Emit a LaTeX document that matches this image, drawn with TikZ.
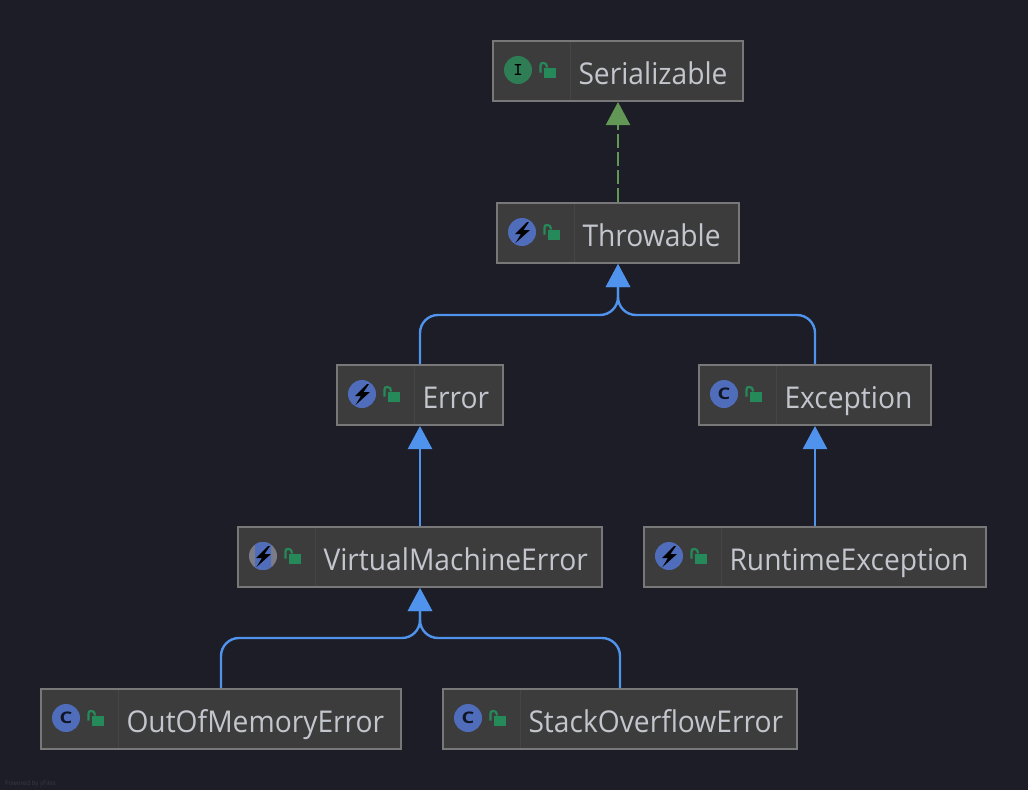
\documentclass[tikz,border=0pt]{standalone}
\usepackage{fontspec}
\setmainfont[FakeStretch=0.94]{Open Sans}
\newfontfamily\iconfont[FakeStretch=1.25]{Open Sans}
\usetikzlibrary{arrows.meta}
\definecolor{bgc}{HTML}{1C1D26}
\definecolor{boxfill}{HTML}{3C3C3C}
\definecolor{boxline}{HTML}{787878}
\definecolor{sepline}{HTML}{454545}
\definecolor{labelc}{HTML}{C4C6CE}
\definecolor{edgeblue}{HTML}{4F93EC}
\definecolor{edgegreen}{HTML}{629755}
\definecolor{iconblue}{HTML}{4F6DBB}
\definecolor{icongreen}{HTML}{2E7D55}
\definecolor{lockgreen}{HTML}{26895A}
\definecolor{icongrey}{HTML}{7C7C88}
\definecolor{powered}{HTML}{383942}
\tikzset{
  classbox/.style={draw=boxline,fill=boxfill,line width=2pt,rectangle,inner sep=0pt,outer sep=1pt},
  classlabel/.style={anchor=base west,text=labelc,inner sep=0pt,outer sep=0pt,font=\fontsize{30}{36}\selectfont},
  iconletter/.style={inner sep=0pt,outer sep=0pt,text=bgc},
  extendsedge/.style={draw=edgeblue,line width=2.4pt,rounded corners=18pt,-{Triangle[width=24pt,length=23pt,fill=edgeblue]}},
  implementsedge/.style={draw=edgegreen,line width=2.4pt,dash pattern=on 14pt off 4pt,-{Triangle[width=24pt,length=23pt,fill=edgegreen]}},
}
\newcommand{\boltshape}{%
  \fill[black] (30,19) -- (18,31) -- (24,31) -- (18.5,40) -- (33,27) -- (26.5,27) -- (32,19) -- cycle;}
\newcommand{\iconblueball}{\fill[iconblue] (25,29) circle (14);}
\newcommand{\iconthrow}{\iconblueball\boltshape}
\newcommand{\iconabstract}{%
  \fill[icongrey] (25,29) circle (14);
  \begin{scope}
    \clip (17,14) rectangle (33,44);
    \fill[iconblue] (25,29) circle (14);
  \end{scope}
  \boltshape}
\newcommand{\iconclass}[1]{\iconblueball
  \node[iconletter,font=\iconfont\bfseries\fontsize{16}{16}\selectfont,text=black!80!iconblue] (#1-c) at (25,29) {C};}
\newcommand{\iconiface}[1]{\fill[icongreen] (25,29) circle (14);
  \node[iconletter,font=\ttfamily\bfseries\fontsize{18}{18}\selectfont,text=black] (#1-i) at (25,29) {I};}
% id, left, top, right, bottom, label, icon
\newcommand{\umlclass}[7]{%
  \pgfmathsetmacro{\bw}{#4-#2}\pgfmathsetmacro{\bh}{#5-#3}%
  \node[classbox,minimum width=\bw pt,minimum height=\bh pt] (#1) at ({(#2+#4)/2},{(#3+#5)/2}) {};
  \begin{scope}[shift={(#2,#3)}]
    \draw[sepline,line width=1pt] (77,1) -- (77,{#5-#3-1});
    #7
    \fill[lockgreen] (51,27) rectangle (63,37);
    \draw[lockgreen,line width=2.2pt] (47.5,31.5) -- (47.5,24.5) .. controls (47.5,22.5) and (48.5,22) .. (50.5,22) .. controls (52.5,22) and (53.5,23) .. (54,26.5);
    \node[classlabel] (#1-label) at (85.5,43) {#6};
  \end{scope}
}
\begin{document}
\begin{tikzpicture}[x=1pt,y=-1pt]
\useasboundingbox (0,0) rectangle (1028,790);
\fill[bgc] (0,0) rectangle (1028,790);
\umlclass{ser}{493}{41}{743}{101}{Serializable}{\iconiface{ser}}
\umlclass{thr}{497}{203}{739}{263}{Throwable}{\iconthrow}
\umlclass{err}{337}{365}{503}{425}{Error}{\iconthrow}
\umlclass{exc}{699}{365}{931}{425}{Exception}{\iconclass{exc}}
\umlclass{vme}{238}{527}{602}{587}{VirtualMachineError}{\iconabstract}
\umlclass{rte}{644}{527}{986}{587}{RuntimeException}{\iconthrow}
\umlclass{oom}{41}{689}{401}{749}{OutOfMemoryError}{\iconclass{oom}}
\umlclass{soe}{443}{689}{797}{749}{StackOverflowError}{\iconclass{soe}}
\coordinate (thrjoin) at (618,315);
\coordinate (vmejoin) at (420,638);
\draw[implementsedge] (thr.north) -- (ser.south);
\draw[extendsedge] (err.north) |- (thrjoin) -- (thr.south);
\draw[extendsedge] (exc.north) |- (thrjoin) -- (thr.south);
\draw[extendsedge] (vme.north) -- (err.south);
\draw[extendsedge] (rte.north) -- (exc.south);
\draw[extendsedge] (oom.north) |- (vmejoin) -- (vme.south);
\draw[extendsedge] (soe.north) |- (vmejoin) -- (vme.south);
\node[anchor=base west,inner sep=0pt,text=powered,font=\fontsize{6.5}{7}\selectfont] (poweredby) at (5,785) {Powered by yFiles};
\end{tikzpicture}
\end{document}
